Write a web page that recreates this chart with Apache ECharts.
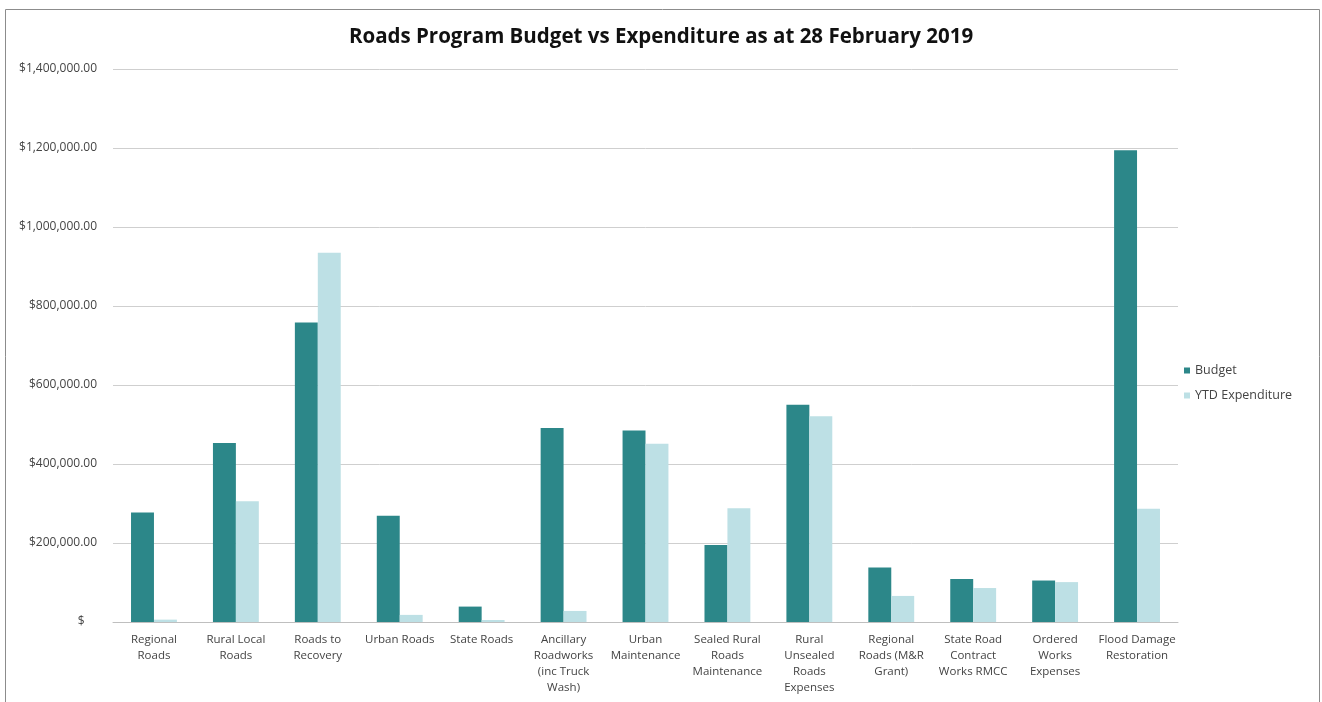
<!DOCTYPE html>
<html>
<head>
<meta charset="utf-8">
<script src="https://cdn.jsdelivr.net/npm/echarts@6/dist/echarts.min.js"></script>
<style>
  html, body { margin: 0; padding: 0; background: #fff; }
  #chart { width: 1322px; height: 702px; }
</style>
</head>
<body>
<div id="chart"></div>
<script>
// 类目（横轴）
var categories = [
  'Regional\nRoads', 'Rural Local\nRoads', 'Roads to\nRecovery', 'Urban Roads', 'State Roads',
  'Ancillary\nRoadworks\n(inc Truck\nWash)', 'Urban\nMaintenance', 'Sealed Rural\nRoads\nMaintenance',
  'Rural\nUnsealed\nRoads\nExpenses', 'Regional\nRoads (M&R\nGrant)', 'State Road\nContract\nWorks RMCC',
  'Ordered\nWorks\nExpenses', 'Flood Damage\nRestoration'
]
// 预算
var budget = [277000, 453000, 758000, 269000, 39000, 491000, 485000, 195000, 550000, 138000, 109000, 105000, 1194000]
// 年初至今支出
var ytdExpenditure = [6000, 306000, 935000, 18000, 5000, 28000, 451000, 288000, 521000, 66000, 86000, 101000, 287000]
// y轴刻度
var yTicks = [0, 200000, 400000, 600000, 800000, 1000000, 1200000, 1400000]

var fontFamily = '"Open Sans", "Liberation Sans", sans-serif'

//会计格式：0 只显示 $
function money(v) {
  if (v === 0) return '$    '
  return '$' + v.toLocaleString('en-US') + '.00'
}

var chart = echarts.init(document.getElementById('chart'))
chart.setOption({
  animation: false,
  title: {
    text: 'Roads Program Budget vs Expenditure as at 28 February 2019',
    left: 'center',
    top: 22,
    textStyle: { fontFamily: fontFamily, fontSize: 20.5, fontWeight: 'bold', color: '#111' }
  },
  graphic: [{
    type: 'rect',
    shape: { x: 5.5, y: 9.5, width: 1314, height: 700 },
    style: { fill: 'none', stroke: '#8c8c8c', lineWidth: 1 },
    silent: true
  }],
  legend: {
    orient: 'vertical',
    left: 1179,
    top: 359,
    itemWidth: 6,
    itemHeight: 6,
    itemGap: 12,
    icon: 'rect',
    textStyle: { fontFamily: fontFamily, fontSize: 12.5, color: '#444' },
    data: ['Budget', 'YTD Expenditure']
  },
  grid: { left: 113, right: 144, top: 69, bottom: 80 },
  xAxis: {
    type: 'category',
    data: categories,
    axisLine: { lineStyle: { color: '#bfbfbf' } },
    axisTick: { show: false },
    axisLabel: {
      interval: 0,
      fontFamily: fontFamily,
      fontSize: 11.5,
      color: '#444',
      lineHeight: 16,
      margin: 10
    }
  },
  yAxis: {
    type: 'value',
    min: yTicks[0],
    max: yTicks[yTicks.length - 1],
    interval: 200000,
    axisLine: { show: false },
    axisTick: { show: false },
    splitLine: { lineStyle: { color: '#cfcfcf' } },
    axisLabel: {
      formatter: money,
      fontFamily: fontFamily,
      fontSize: 12,
      color: '#444',
      margin: 16
    }
  },
  series: [
    {
      name: 'Budget',
      type: 'bar',
      data: budget,
      barGap: '0%',
      barCategoryGap: '44%',
      itemStyle: { color: '#2c8789' }
    },
    {
      name: 'YTD Expenditure',
      type: 'bar',
      data: ytdExpenditure,
      itemStyle: { color: '#bde0e5' }
    }
  ]
})
</script>
</body>
</html>
